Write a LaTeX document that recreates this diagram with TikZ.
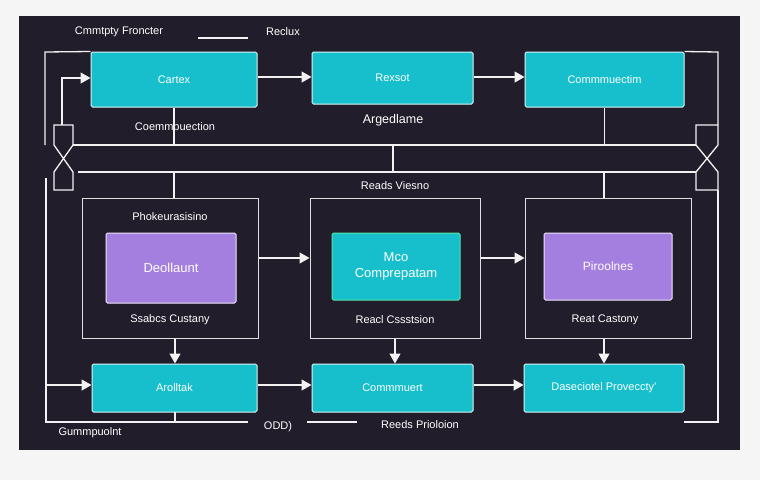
\documentclass[tikz,border=0pt]{standalone}
\usepackage{fontspec}
\setmainfont{Liberation Sans}
\usetikzlibrary{arrows.meta}
\definecolor{panelbg}{HTML}{221D2B}
\definecolor{teal}{HTML}{16BFCB}
\definecolor{lilac}{HTML}{A47FE0}
\definecolor{pagebg}{HTML}{F5F5F5}
\begin{document}
\begin{tikzpicture}[
        x=1pt, y=-1pt,
        line width=1.2pt,
        wire/.style={draw=white!90!gray, line width=1.3pt},
        arrow/.style={wire, -{Triangle[width=11pt,length=10pt]}},
        tealbox/.style={fill=teal, draw=white!85!teal, rounded corners=1.5pt, line width=1pt},
        lilacbox/.style={fill=lilac, draw=white!80!lilac, rounded corners=1.5pt, line width=1pt},
        frame/.style={draw=white!75!gray, line width=1pt},
        lbl/.style={text=white, font=\fontsize{11}{13}\selectfont}
    ]
    % Hintergrund
    \fill[pagebg] (0,0) rectangle (760,480);
    \useasboundingbox (0,0) rectangle (760,480);
    \fill[panelbg] (19,16) rectangle (740,450);

    % Kopfzeile
    \node[lbl] (head) at (119,32) {Cmmtpty Froncter};
    \draw[wire] (198,38) -- (248,38);
    \node[lbl] (headr) at (283,32) {Reclux};

    % Obere Reihe
    \node[tealbox, minimum width=166pt, minimum height=55pt, lbl] (cartex) at (174,79.5) {Cartex};
    \node[tealbox, minimum width=161pt, minimum height=52pt, lbl] (rexsot) at (392.5,78) {Rexsot};
    \node[tealbox, minimum width=159pt, minimum height=55pt, lbl] (commu) at (604.5,79.5) {Commmuectim};
    \draw[arrow] (cartex.east |- 0,77) -- (rexsot.west |- 0,77);
    \draw[arrow] (rexsot.east |- 0,77) -- (commu.west |- 0,77);
    \node[lbl] at (175,128) {Coemmpuection};
    \node[lbl, font=\fontsize{12.5}{14}\selectfont] at (393,120) {Argedlame};

    % Sanduhren
    \draw[wire] (54,125) -- (73,125) -- (73,145) -- (54,172) -- (54,190) -- (73,190) -- (73,172) -- (54,145) -- cycle;
    \draw[wire] (696,125) -- (718,125) -- (718,145) -- (696,172) -- (696,190) -- (718,190) -- (718,172) -- (696,145) -- cycle;

    % Rahmenleitungen
    \coordinate (lt) at (45,52);
    \draw[wire] (cartex.north west) -- (lt) -- (45,145);
    \draw[arrow] (62,125) -- (62,78) -- (cartex.west |- 0,78);
    \draw[wire] (commu.north east) -- (718,52) -- (718,125);
    \draw[wire] (73,145) -- (696,145);
    \draw[wire] (78,172) -- (696,172);
    \draw[wire] (cartex.south) -- (174,145);
    \draw[wire] (commu.south) -- (604.5,145);
    \draw[wire] (393,145) -- (393,172);
    \node[lbl] at (395,186) {Reads Viesno};

    % Mittlere Reihe
    \node[frame, minimum width=176pt, minimum height=140pt] (p1) at (170,268) {};
    \node[frame, minimum width=170pt, minimum height=140pt] (p2) at (395,268) {};
    \node[frame, minimum width=166pt, minimum height=140pt] (p3) at (608,268) {};
    \draw[wire] (174,172) -- (p1.north -| 174,0);
    \draw[wire] (604,172) -- (p3.north -| 604,0);
    \node[lbl] at (170,217) {Phokeurasisino};
    \node[lilacbox, minimum width=130pt, minimum height=70pt, lbl, font=\fontsize{13}{15}\selectfont] (deol) at (171,268) {Deollaunt};
    \node[tealbox, draw=green!40!teal!70!white, minimum width=128pt, minimum height=67pt, lbl, align=center, font=\fontsize{13}{16}\selectfont] (mco) at (396,266.5) {Mco\\Comprepatam};
    \node[lilacbox, minimum width=128pt, minimum height=67pt, lbl, font=\fontsize{12}{14}\selectfont] (piro) at (608,266.5) {Piroolnes};
    \node[lbl] at (170,320) {Ssabcs Custany};
    \node[lbl] at (395,320) {Reacl Cssstsion};
    \node[lbl] at (605,320) {Reat Castony};
    \draw[arrow] (p1.east |- 0,258) -- (p2.west |- 0,258);
    \draw[arrow] (p2.east |- 0,258) -- (p3.west |- 0,258);

    % Untere Reihe
    \node[tealbox, minimum width=165pt, minimum height=48pt, lbl] (arol) at (174.5,388) {Arolltak};
    \node[tealbox, minimum width=161pt, minimum height=48pt, lbl] (comm) at (392.5,388) {Commmuert};
    \node[tealbox, minimum width=160pt, minimum height=48pt, lbl] (dase) at (604,388) {Daseciotel Proveccty'};
    \draw[arrow] (p1.south -| 175,0) -- (arol.north -| 175,0);
    \draw[arrow] (p2.south -| 395,0) -- (comm.north -| 395,0);
    \draw[arrow] (p3.south -| 604,0) -- (dase.north -| 604,0);
    \draw[arrow] (arol.east |- 0,385) -- (comm.west |- 0,385);
    \draw[arrow] (comm.east |- 0,385) -- (dase.west |- 0,385);

    % Rueckleitungen unten
    \coordinate (lb) at (46,422);
    \draw[wire] (46,178) -- (lb) -- (248,422);
    \draw[wire] (175,412) -- (175,422);
    \draw[arrow] (46,385) -- (arol.west |- 0,385);
    \draw[wire] (718,190) -- (718,422) -- (684,422);
    \node[lbl] at (90,433) {Gummpuolnt};
    \node[lbl] at (278,427) {ODD)};
    \draw[wire] (307,422) -- (357,422);
    \node[lbl] at (420,425) {Reeds Prioloion};
\end{tikzpicture}
\end{document}
